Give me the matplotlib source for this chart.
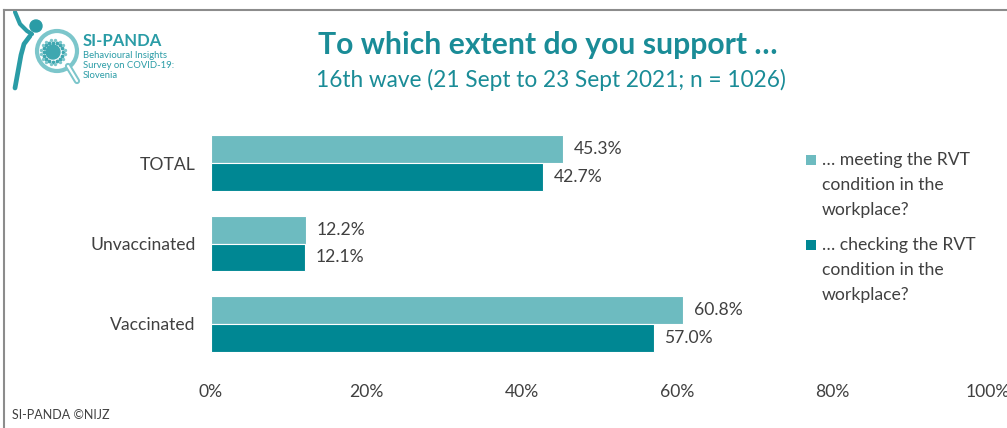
import matplotlib
matplotlib.use("Agg")
import matplotlib.pyplot as plt
from matplotlib.patches import Rectangle, Circle
from matplotlib.lines import Line2D
import numpy as np

plt.rcParams['font.family'] = ['Lato', 'DejaVu Sans']

# Data
categories = ["TOTAL", "Unvaccinated", "Vaccinated"]
meeting = [45.3, 12.2, 60.8]
checking = [42.7, 12.1, 57.0]
series_labels = ["… meeting the RVT\ncondition in the\nworkplace?",
                 "… checking the RVT\ncondition in the\nworkplace?"]
xticks = [0, 20, 40, 60, 80, 100]
xtick_labels = ["0%", "20%", "40%", "60%", "80%", "100%"]

LIGHT = "#6DBBC0"
DARK = "#008793"
TEAL_TEXT = "#1A8C97"
TEXT = "#404040"

W, H = 1007, 428
fig = plt.figure(figsize=(W / 100, H / 100), dpi=100)
fig.patch.set_facecolor("white")


def fx(px):
    return px / W


def fy(py):
    return 1 - py / H


ax = fig.add_axes([fx(211), fy(364.25), fx(987.5) - fx(211), fy(122.75) - fy(364.25)])
y = np.arange(len(categories))
h = 0.345
ax.barh(y - h / 2, meeting, height=h, color=LIGHT, edgecolor="white", linewidth=0.8)
ax.barh(y + h / 2, checking, height=h, color=DARK, edgecolor="white", linewidth=0.8)
for yi, v in zip(y, meeting):
    ax.text(v + 1.4, yi - h / 2, f"{v:.1f}%", va="center", ha="left", fontsize=12.6, color=TEXT)
for yi, v in zip(y, checking):
    ax.text(v + 1.4, yi + h / 2, f"{v:.1f}%", va="center", ha="left", fontsize=12.6, color=TEXT)

ax.set_xlim(0, 100)
ax.set_ylim(2.5, -0.5)
ax.set_yticks(y)
ax.set_yticklabels(categories, fontsize=12.6, color=TEXT)
ax.set_xticks(xticks)
ax.set_xticklabels(xtick_labels, fontsize=12.6, color=TEXT)
ax.tick_params(axis="both", length=0)
ax.tick_params(axis="x", pad=14)
ax.tick_params(axis="y", pad=11)
for s in ax.spines.values():
    s.set_visible(False)

# Title and subtitle
fig.text(fx(548), fy(45), "To which extent do you support …", ha="center", va="center",
         fontsize=21.7, fontweight="bold", color=TEAL_TEXT)
fig.text(fx(551), fy(80), "16th wave (21 Sept to 23 Sept 2021; n = 1026)", ha="center", va="center",
         fontsize=16.3, color=TEAL_TEXT)

# Legend
for i, (lab, col) in enumerate(zip(series_labels, [LIGHT, DARK])):
    top = 160 + i * 85
    fig.patches.append(Rectangle((fx(806), fy(top + 5)), fx(10), 10 / H, transform=fig.transFigure,
                                 facecolor=col, edgecolor="none"))
    for j, line in enumerate(lab.split("\n")):
        fig.text(fx(822), fy(top + j * 25), line, ha="left", va="center", fontsize=12.7, color=TEXT)

# Footer
fig.text(fx(12), fy(415), "SI-PANDA ©NIJZ", ha="left", va="center", fontsize=9, color=TEXT)

# Frame lines (top and left)
fig.add_artist(Line2D([fx(4), fx(1007)], [fy(10), fy(10)], color="#8c8c8c", lw=1.5))
fig.add_artist(Line2D([fx(4), fx(4)], [fy(10), fy(428)], color="#8c8c8c", lw=1.5))

# Logo (drawn in pixel coordinates of its own small axes)
logo = fig.add_axes([fx(5), fy(95), fx(90) - fx(5), 85 / H])
logo.set_xlim(5, 90)
logo.set_ylim(95, 10)
logo.axis("off")
LOGO = "#2A9CA6"
RING = "#7CC6CB"
logo.add_patch(Circle((57, 51), 20, fill=False, edgecolor=RING, lw=3.0))
logo.plot([68, 77], [66, 81], color=RING, lw=4.5, solid_capstyle="round")
logo.plot([68, 77], [66, 81], color="white", lw=1.6, solid_capstyle="round")
logo.add_patch(Circle((36, 26), 6, color=LOGO))
logo.plot([15, 20, 27, 32], [12, 24, 31, 34], color=LOGO, lw=3, solid_capstyle="round")
logo.plot([30, 24, 21, 19, 15], [36, 44, 55, 66, 88], color=LOGO, lw=3.4, solid_capstyle="round")
logo.add_patch(Circle((53, 52), 7, color="#3FA7B0"))
ang = np.linspace(0, 2 * np.pi, 16, endpoint=False)
logo.scatter(53 + 9.5 * np.cos(ang), 52 + 9.5 * np.sin(ang), s=3, color="#3FA7B0")
logo.scatter(53 + 12 * np.cos(ang + 0.2), 52 + 12 * np.sin(ang + 0.2), s=2, color=RING)

fig.text(fx(83), fy(41), "SI-PANDA", ha="left", va="center", fontsize=12, fontweight="bold", color=LOGO)
for k, t in enumerate(["Behavioural Insights", "Survey on COVID-19:", "Slovenia"]):
    fig.text(fx(83), fy(55 + k * 10.5), t, ha="left", va="center", fontsize=6.8, color=LOGO)

fig.savefig("out.png", dpi=100, facecolor="white")
